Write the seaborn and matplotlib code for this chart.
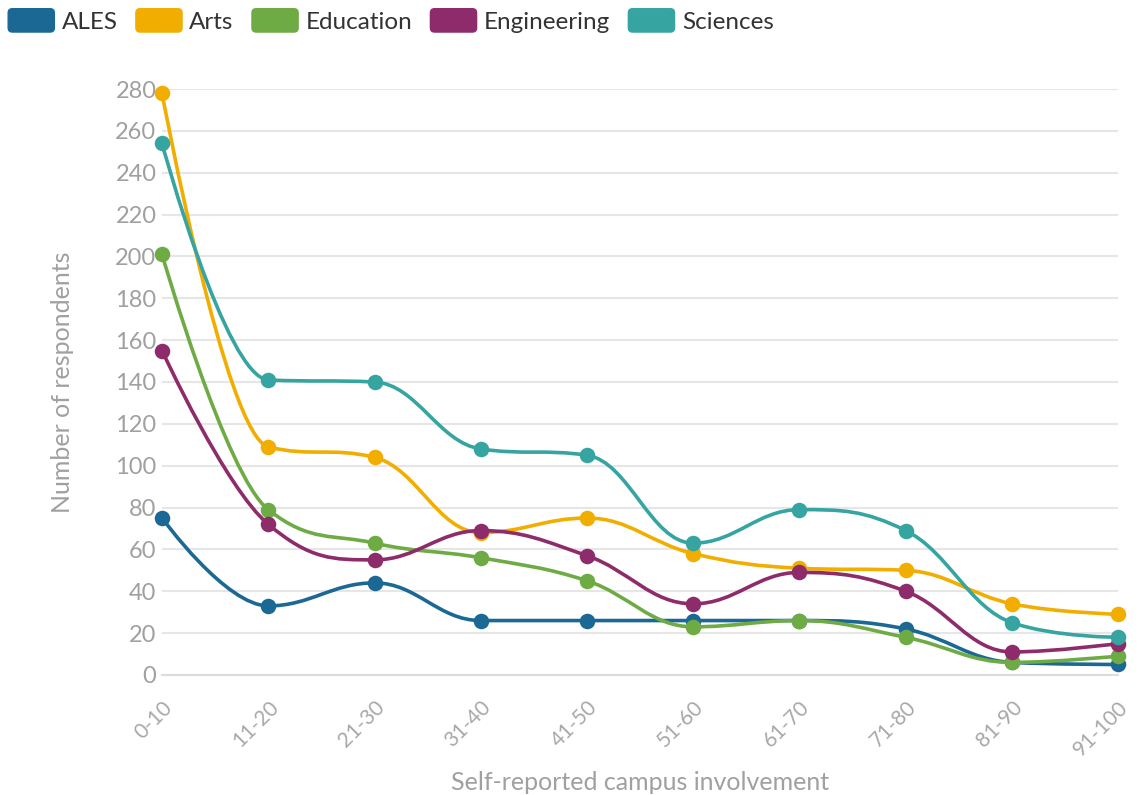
import numpy as np
import pandas as pd
import matplotlib
matplotlib.use("Agg")
import matplotlib.pyplot as plt
from matplotlib.path import Path
from matplotlib.patches import PathPatch, Patch, FancyBboxPatch
from matplotlib.legend_handler import HandlerPatch
import seaborn as sns

# involvement buckets
categories = ["0-10", "11-20", "21-30", "31-40", "41-50",
              "51-60", "61-70", "71-80", "81-90", "91-100"]

ales = [75, 33, 44, 26, 26, 26, 26, 22, 6, 5]
arts = [278, 109, 104, 68, 75, 58, 51, 50, 34, 29]
education = [201, 79, 63, 56, 45, 23, 26, 18, 6, 9]
engineering = [155, 72, 55, 69, 57, 34, 49, 40, 11, 15]
sciences = [254, 141, 140, 108, 105, 63, 79, 69, 25, 18]

faculties = ["ALES", "Arts", "Education", "Engineering", "Sciences"]
colors = ["#1b6894", "#f2ae00", "#6fab44", "#8e2c6b", "#36a5a2"]

series = [ales, arts, education, engineering, sciences]
df = pd.DataFrame({
    "pos": np.tile(np.arange(len(categories)), len(faculties)),
    "count": np.concatenate(series),
    "faculty": np.repeat(faculties, len(categories)),
})


def spline_path(xs, ys, smoothing=1.5):
    # highcharts-style spline: bezier control points from neighbours
    denom = smoothing + 1
    n = len(xs)
    left = [None] * n
    right = [None] * n
    for i in range(1, n - 1):
        px, py = xs[i], ys[i]
        lx, ly = xs[i - 1], ys[i - 1]
        nx, ny = xs[i + 1], ys[i + 1]
        lcx = (smoothing * px + lx) / denom
        lcy = (smoothing * py + ly) / denom
        rcx = (smoothing * px + nx) / denom
        rcy = (smoothing * py + ny) / denom
        if rcx != lcx:
            corr = (rcy - lcy) * (rcx - px) / (rcx - lcx) + py - rcy
            lcy += corr
            rcy += corr
            if lcy > ly and lcy > py:
                lcy = max(ly, py); rcy = 2 * py - lcy
            elif lcy < ly and lcy < py:
                lcy = min(ly, py); rcy = 2 * py - lcy
            if rcy > ny and rcy > py:
                rcy = max(ny, py); lcy = 2 * py - rcy
            elif rcy < ny and rcy < py:
                rcy = min(ny, py); lcy = 2 * py - rcy
        left[i] = (lcx, lcy)
        right[i] = (rcx, rcy)
    verts = [(xs[0], ys[0])]
    codes = [Path.MOVETO]
    for i in range(1, n):
        c1 = right[i - 1] if right[i - 1] is not None else (xs[i - 1], ys[i - 1])
        c2 = left[i] if left[i] is not None else (xs[i], ys[i])
        verts += [c1, c2, (xs[i], ys[i])]
        codes += [Path.CURVE4] * 3
    return Path(verts, codes)


def rounded_swatch(legend, orig_handle, xdescent, ydescent, width, height, fontsize):
    return FancyBboxPatch((-xdescent, -ydescent), width, height,
                          boxstyle="round,pad=0,rounding_size=3")


sns.set_style("white")
plt.rcParams["font.family"] = ["Lato", "DejaVu Sans"]

fig = plt.figure(figsize=(11.41, 7.95), dpi=100)
ax = fig.add_axes([0.142, 0.151, 0.838, 0.737])

palette = dict(zip(faculties, colors))
for k, name in enumerate(faculties):
    sub = df[df["faculty"] == name]
    path = spline_path(sub["pos"].to_numpy(float), sub["count"].to_numpy(float))
    ax.add_patch(PathPatch(path, facecolor="none", edgecolor=palette[name],
                           lw=2.6, zorder=3 + 2 * k, clip_on=False,
                           capstyle="round", joinstyle="round"))
    sns.scatterplot(data=sub, x="pos", y="count", color=palette[name], s=125,
                    edgecolor=palette[name], linewidth=0, ax=ax,
                    zorder=4 + 2 * k, clip_on=False, legend=False)

ax.set_xlim(0, len(categories) - 1)
ax.set_ylim(0, 280)
ax.set_yticks(np.arange(0, 281, 20))
ax.set_xticks(np.arange(len(categories)))
ax.set_xticklabels(categories, rotation=45, ha="right", rotation_mode="anchor")
ax.grid(axis="y", color="#e6e6e6", lw=1.5)
ax.set_axisbelow(True)
sns.despine(ax=ax, left=True, top=True, right=True)
ax.spines["bottom"].set_color("#dcdcdc")
ax.spines["bottom"].set_linewidth(1.5)
ax.tick_params(axis="x", colors="#dcdcdc", length=10, width=1.2, pad=6,
               labelcolor="#a8a8a8", labelsize=15)
ax.tick_params(axis="y", length=0, pad=4, labelcolor="#a0a0a0", labelsize=17)

ax.set_xlabel("Self-reported campus involvement", color="#a0a0a0",
              fontsize=18, labelpad=8)
ax.set_ylabel("Number of respondents", color="#a0a0a0", fontsize=18, labelpad=30)

handles = [Patch(facecolor=c, edgecolor=c, label=f) for f, c in zip(faculties, colors)]
fig.legend(handles=handles, loc="center left", bbox_to_anchor=(-0.012, 0.974),
           ncol=5, frameon=False, fontsize=17.5, handlelength=1.9,
           handleheight=1.1, handletextpad=0.3, columnspacing=0.75,
           labelcolor="#333333",
           handler_map={Patch: HandlerPatch(patch_func=rounded_swatch)})

fig.savefig("out.png", dpi=100)
